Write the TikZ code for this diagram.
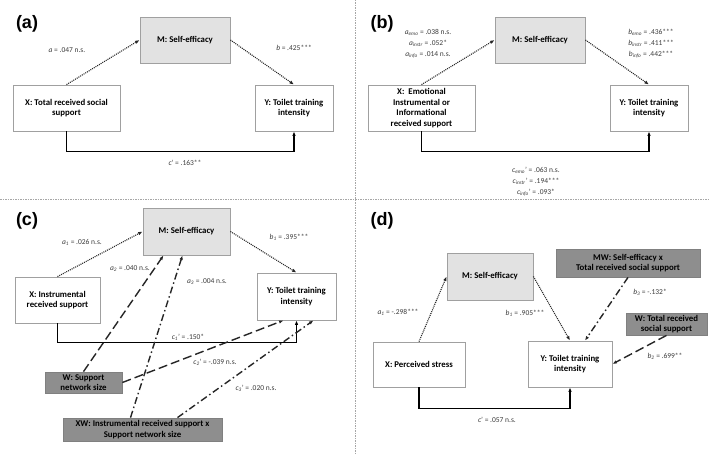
\documentclass[tikz,border=0pt]{standalone}
\usepackage{fontspec}
\setmainfont{Carlito}
\newfontfamily\panelfont{Liberation Sans}
\usetikzlibrary{arrows.meta,calc}

\definecolor{boxline}{HTML}{A0A0A0}
\definecolor{mfill}{HTML}{E2E2E2}
\definecolor{wfill}{HTML}{8E8E8E}
\definecolor{coeftext}{HTML}{3C3C3C}

\begin{document}
\begin{tikzpicture}[x=1pt,y=-1pt]
		\tikzstyle{box}=[draw=boxline,line width=0.8pt,fill=white,align=center,inner sep=1pt,font=\fontsize{8.8}{10.6}\selectfont\bfseries]
		\tikzstyle{mbox}=[box,fill=mfill]
		\tikzstyle{wbox}=[box,fill=wfill,draw=gray]
		\tikzstyle{coef}=[align=center,inner sep=0pt,text=coeftext,font=\fontsize{7.5}{11}\selectfont]
		\tikzstyle{panel}=[inner sep=0pt,font=\panelfont\fontsize{18}{18}\selectfont\bfseries]
		\tikzstyle{tip}=[-{Latex[length=4.5pt,width=3.5pt]}]
		\tikzstyle{indirect}=[tip,line width=1.1pt,black!85,dash pattern=on 1pt off 1pt]
		\tikzstyle{direct}=[tip,line width=1.4pt,black]
		\tikzstyle{moddash}=[tip,line width=1.4pt,black!85,dash pattern=on 9pt off 4pt]
		\tikzstyle{moddot}=[tip,line width=1.4pt,black!85,dash pattern=on 7pt off 3pt on 1.5pt off 3pt]
		\tikzstyle{divider}=[line width=0.7pt,gray!70,dash pattern=on 1.5pt off 1pt]
		
		\useasboundingbox[fill=white] (0,0) rectangle (709,454);
		\draw[divider] (0,199) -- (709,199);
		\draw[divider] (355,0) -- (355,454);
		
		% (a)
		\node[panel] (pa) at (27,24) {(a)};
		\node[mbox,minimum width=90pt,minimum height=46pt] (aM) at (185,40) {M: Self-efficacy};
		\node[box,minimum width=107pt,minimum height=46pt] (aX) at (66.5,108) {X: Total received social\\support};
		\node[box,minimum width=78pt,minimum height=46pt] (aY) at (294,108) {Y: Toilet training\\intensity};
		\draw[indirect] (aX.north) -- (aM.west);
		\draw[indirect] (aM.east) -- (aY.north);
		\draw[direct] (aX.south) -- ++(0,20) -| (aY.south);
		\node[coef] (aa) at (67,50) {\textit{a} = .047 n.s.};
		\node[coef] (ab) at (294,48) {\textit{b} = .425***};
		\node[coef] (ac) at (185,163) {\textit{c}' = .163**};
		
		% (b)
		\node[panel] (pb) at (382,24) {(b)};
		\node[mbox,minimum width=90pt,minimum height=46pt] (bM) at (540,40) {M: Self-efficacy};
		\node[box,minimum width=107pt,minimum height=46pt] (bX) at (421.5,108) {X:\ \ Emotional\\Instrumental or\\Informational\\received support};
		\node[box,minimum width=78pt,minimum height=46pt] (bY) at (649,108) {Y: Toilet training\\intensity};
		\draw[indirect] (bX.north) -- (bM.west);
		\draw[indirect] (bM.east) -- (bY.north);
		\draw[direct] (bX.south) -- ++(0,20) -| (bY.south);
		\node[coef] (ba) at (428,44) {\textit{a}\textsubscript{\textit{emo}} = .038 n.s.\\\textit{a}\textsubscript{\textit{instr}} = .052*\\\textit{a}\textsubscript{\textit{info}} = .014 n.s.};
		\node[coef] (bb) at (651,44) {\textit{b}\textsubscript{\textit{emo}} = .436***\\\textit{b}\textsubscript{\textit{instr}} = .411***\\\textit{b}\textsubscript{\textit{info}} = .442***};
		\node[coef] (bc) at (536,182) {\textit{c}\textsubscript{\textit{emo}}' = .063 n.s.\\\textit{c}\textsubscript{\textit{instr}}' = .194***\\\textit{c}\textsubscript{\textit{info}}' = .093*};
		
		% (c)
		\node[panel] (pc) at (27,221) {(c)};
		\node[mbox,minimum width=87pt,minimum height=47pt] (cM) at (186.5,231.5) {M: Self-efficacy};
		\node[box,minimum width=85pt,minimum height=46pt] (cX) at (57.5,300) {X: Instrumental\\received support};
		\node[box,minimum width=79pt,minimum height=47pt] (cY) at (296.5,296.5) {Y: Toilet training\\intensity};
		\node[wbox,minimum width=77pt,minimum height=21pt] (cW) at (83.5,382.5) {W: Support\\network size};
		\node[wbox,minimum width=159pt,minimum height=23pt] (cXW) at (142.5,429.5) {XW: Instrumental received support x\\Support network size};
		\draw[indirect] (cX.north) -- (cM.west);
		\draw[indirect] (cM.east) -- (cY.north);
		\draw[direct] (cX.south) -- ++(0,19) -| (cY.south);
		\draw[moddash] (cW.north) -- ($(cM.south)+(-23,0)$);
		\draw[moddot] ($(cXW.north)+(-12,0)$) -- ($(cM.south)+(-4,0)$);
		\draw[moddash] (cW.east) -- ($(cY.south)+(-13,0)$);
		\draw[moddot] ($(cXW.north)+(35,0)$) -- ($(cY.south)+(17,0)$);
		\node[coef] (ca1) at (82,242) {\textit{a}\textsubscript{\textit{1}} = .026 n.s.};
		\node[coef] (cb1) at (289,237) {\textit{b}\textsubscript{\textit{1}} = .395***};
		\node[coef] (ca2) at (130,269) {\textit{a}\textsubscript{\textit{2}} = .040 n.s.};
		\node[coef] (ca3) at (207,282) {\textit{a}\textsubscript{\textit{3}} = .004 n.s.};
		\node[coef] (cc1) at (188,337) {\textit{c}\textsubscript{\textit{1}}' = .150*};
		\node[coef] (cc2) at (215,362) {\textit{c}\textsubscript{\textit{2}}' = -.039 n.s.};
		\node[coef] (cc3) at (256,388) {\textit{c}\textsubscript{\textit{3}}' = .020 n.s.};
		
		% (d)
		\node[panel] (pd) at (382,221) {(d)};
		\node[mbox,minimum width=86pt,minimum height=47pt] (dM) at (490,276.5) {M: Self-efficacy};
		\node[box,minimum width=92pt,minimum height=45pt] (dX) at (419,364.5) {X: Perceived stress};
		\node[box,minimum width=84pt,minimum height=46pt] (dY) at (570,364) {Y: Toilet training\\intensity};
		\node[wbox,minimum width=144pt,minimum height=28pt] (dMW) at (628,263) {MW: Self-efficacy x\\Total received social support};
		\node[wbox,minimum width=81pt,minimum height=22pt] (dW) at (666.5,324) {W: Total received\\social support};
		\draw[indirect] (dX.north) -- (dM.west);
		\draw[indirect] (dM.east) -- (dY.north);
		\draw[moddot] (dMW.south) -- ($(dY.north)+(15,0)$);
		\draw[moddash] (dW.south) -- (dY.east);
		\draw[direct] (dX.south) -- ++(0,21) -| (dY.south);
		\node[coef] (da1) at (398,312) {\textit{a}\textsubscript{\textit{1}} = -.298***};
		\node[coef] (db1) at (525,313) {\textit{b}\textsubscript{\textit{1}} = .905***};
		\node[coef] (db3) at (650,292) {\textit{b}\textsubscript{\textit{3}} = -.132*};
		\node[coef] (db2) at (665,356) {\textit{b}\textsubscript{\textit{2}} = .699**};
		\node[coef] (dc) at (497,420) {\textit{c}' = .057 n.s.};
\end{tikzpicture}
\end{document}
